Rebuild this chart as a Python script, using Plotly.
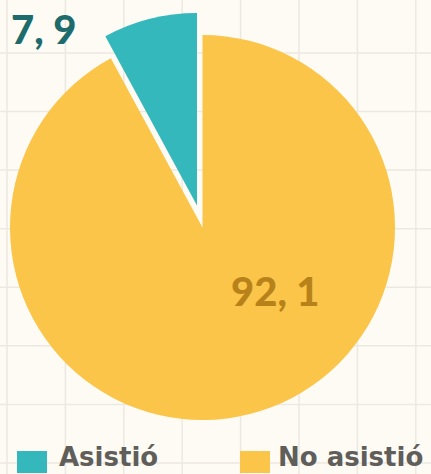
import plotly.graph_objects as go

categories = ["Asistió", "No asistió"]
values = [7.9, 92.1]
value_labels = ["7, 9", "92, 1"]
colors = ["#35b8bb", "#fbc54a"]
label_colors = ["#1d6b6c", "#b8821a"]

W, H = 431, 474
BG = "#fefbf4"
GRID = "#ece9e2"

def px(x):
    return x / W

def py(y):
    return 1 - y / H

# slices drawn clockwise from 12 o'clock: yellow first, teal ends at 12 o'clock
order = [1, 0]
pie_labels = [categories[i] for i in order]
pie_values = [values[i] for i in order]

fig = go.Figure()

# main (unpulled) pie: yellow slice, teal placeholder transparent
fig.add_trace(go.Pie(
    labels=pie_labels, values=pie_values, sort=False, direction="clockwise",
    rotation=0,
    marker=dict(colors=[colors[1], "rgba(0,0,0,0)"], line=dict(width=0)),
    textinfo="none", hoverinfo="skip", showlegend=False,
    domain=dict(x=[px(10), px(395)], y=[py(420), py(35)]),
))
# pulled teal slice
fig.add_trace(go.Pie(
    labels=pie_labels, values=pie_values, sort=False, direction="clockwise",
    rotation=0,
    marker=dict(colors=["rgba(0,0,0,0)", colors[0]], line=dict(width=0)),
    textinfo="none", hoverinfo="skip", showlegend=False,
    domain=dict(x=[px(4.5), px(389.5)], y=[py(398.1), py(13.1)]),
))

shapes = []
# background grid
for k in range(8):
    x = 7 + 58.4 * k
    shapes.append(dict(type="line", xref="paper", yref="paper", x0=px(x), x1=px(x), y0=0, y1=1,
                       line=dict(color=GRID, width=1.5), layer="below"))
for k in range(9):
    y = -5.6 + 58.57 * k
    shapes.append(dict(type="line", xref="paper", yref="paper", x0=0, x1=1, y0=py(y), y1=py(y),
                       line=dict(color=GRID, width=1.5), layer="below"))

annotations = []
# value labels
annotations.append(dict(xref="paper", yref="paper", x=px(43), y=py(29), text=value_labels[0],
                        showarrow=False, xanchor="center", yanchor="middle",
                        font=dict(family="Lato", size=40, color=label_colors[0], weight=900)))
annotations.append(dict(xref="paper", yref="paper", x=px(275), y=py(291), text=value_labels[1],
                        showarrow=False, xanchor="center", yanchor="middle",
                        font=dict(family="Lato", size=40, color=label_colors[1], weight=900)))

# custom legend
legend_x = [17, 240]
text_off = [40, 36]
for i, (cat, col) in enumerate(zip(categories, colors)):
    x0 = legend_x[i]
    shapes.append(dict(type="rect", xref="paper", yref="paper",
                       x0=px(x0), x1=px(x0 + 30), y0=py(473), y1=py(451),
                       fillcolor=col, line=dict(width=0)))
    annotations.append(dict(xref="paper", yref="paper", x=px(x0 + text_off[i]), y=0, text=cat,
                            showarrow=False, xanchor="left", yanchor="bottom",
                            font=dict(family="DejaVu Sans", size=26, color="#5f5e5a", weight=700)))

fig.update_layout(
    width=W, height=H,
    margin=dict(l=0, r=0, t=0, b=0),
    paper_bgcolor=BG, plot_bgcolor=BG,
    shapes=shapes, annotations=annotations,
    showlegend=False,
)

fig.write_html(
    "out.html",
    config={"displayModeBar": False},
    post_script="document.body.style.margin='0';document.body.style.background='%s';" % BG,
)
